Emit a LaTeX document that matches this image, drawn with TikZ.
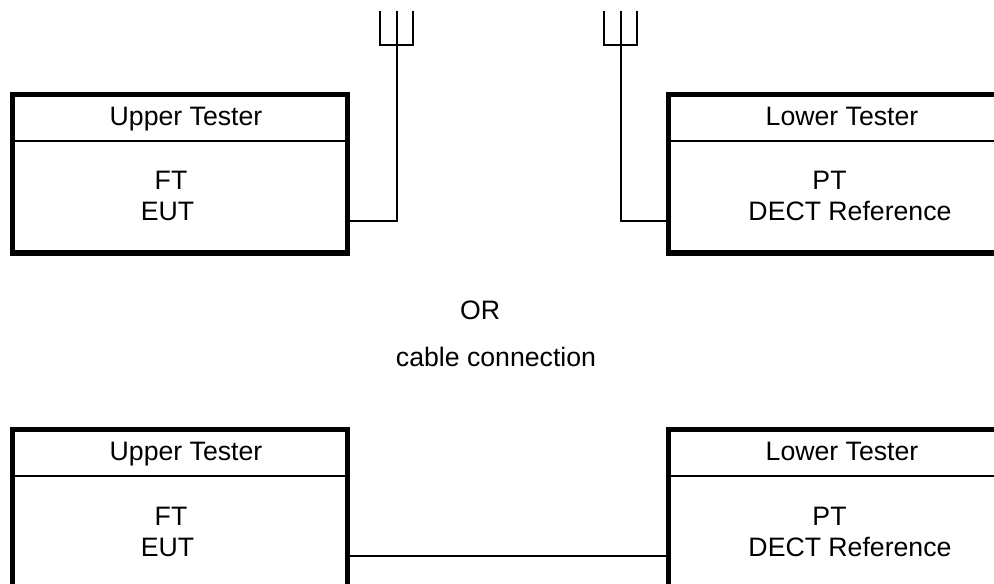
\documentclass[tikz,border=0pt]{standalone}
\usepackage{fontspec}
\setmainfont{Liberation Sans}
\usetikzlibrary{calc}

\begin{document}
\begin{tikzpicture}[
  x=0.75pt, y=-0.75pt,
  font=\fontsize{20}{24}\selectfont,
  tester/.style={draw=black, line width=4pt, minimum width=251.25pt, minimum height=118.9pt, inner sep=0pt, outer sep=0pt},
  label/.style={inner sep=0pt, anchor=base},
  wire/.style={line width=1.5pt, line cap=rect},
  rule/.style={line width=1.5pt}
]
\useasboundingbox (0,0) rectangle (994,584);
% testers, radio row at 94.5 and cable row at 429.5
\foreach \n/\y in {a/94.5,b/429.5} {
  \node[tester] (up\n) at (180,\y+79.25) {};
  \node[tester] (lo\n) at (836,\y+79.25) {};
  \draw[rule] (up\n.west) ++(0,-32.75) -- ++(335,0);
  \draw[rule] (lo\n.west) ++(0,-32.75) -- ++(335,0);
  \node[label] (upt\n) at (186,\y+31) {Upper Tester};
  \node[label] (upf\n) at (171,\y+95.5) {FT};
  \node[label] (upe\n) at (167.5,\y+126.5) {EUT};
  \node[label] (lot\n) at (842,\y+31) {Lower Tester};
  \node[label] (lop\n) at (829.5,\y+95.5) {PT};
  \node[label] (lod\n) at (850,\y+126.5) {DECT Reference};
}
\node[label] (or) at (480,319) {OR};
\node[label] (cable) at (496,366) {cable connection};
% antennas
\coordinate (ant1) at (396.7,45);
\coordinate (ant2) at (620.7,45);
\draw[wire] ($(upa.east)+(0,47.5)$) -| (ant1);
\draw[wire] ($(loa.west)+(0,47.5)$) -| (ant2);
\foreach \c in {ant1,ant2}
  \draw[wire] ($(\c)+(-16.5,-33)$) |- ($(\c)+(16.5,0)$) -- ++(0,-33) (\c) -- ++(0,-33);
% cable
\draw[wire] ($(upb.east)+(0,47.5)$) -- ($(lob.west)+(0,47.5)$);
\end{tikzpicture}
\end{document}
